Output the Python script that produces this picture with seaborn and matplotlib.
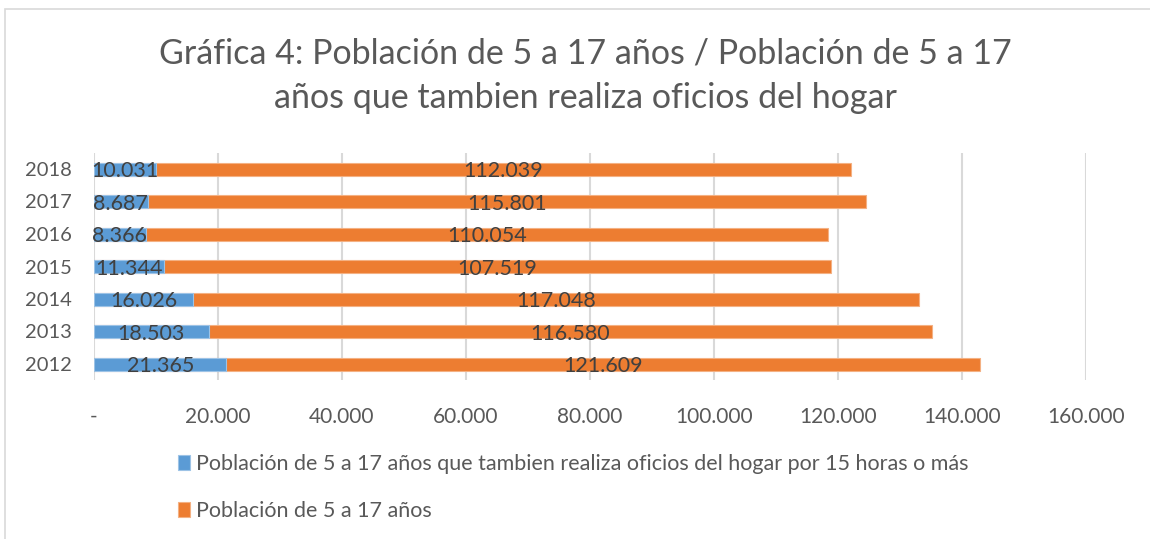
import matplotlib
matplotlib.use("Agg")
import matplotlib.pyplot as plt
import seaborn as sns
import pandas as pd
from matplotlib.patches import Rectangle
from matplotlib.ticker import FuncFormatter

years = ["2018", "2017", "2016", "2015", "2014", "2013", "2012"]
hogar = [10031, 8687, 8366, 11344, 16026, 18503, 21365]
poblacion = [112039, 115801, 110054, 107519, 117048, 116580, 121609]
xticks = [0, 20000, 40000, 60000, 80000, 100000, 120000, 140000, 160000]

label_hogar = "Población de 5 a 17 años que tambien realiza oficios del hogar por 15 horas o más"
label_pob = "Población de 5 a 17 años"
title = "Gráfica 4: Población de 5 a 17 años / Población de 5 a 17\naños que tambien realiza oficios del hogar"

BLUE = "#5B9BD5"
ORANGE = "#ED7D31"
GREY = "#595959"

sns.set_theme(style="white")
plt.rcParams["font.family"] = ["Lato", "DejaVu Sans"]

df = pd.DataFrame({"year": years, "hogar": hogar, "poblacion": poblacion})
df["total"] = df["hogar"] + df["poblacion"]

fig = plt.figure(figsize=(11.5, 5.39), dpi=100)
ax = fig.add_axes([94 / 1150, 1 - 380.25 / 539, (1086 - 94) / 1150, (380.25 - 152.75) / 539])

sns.barplot(data=df, x="total", y="year", order=years, orient="h", color=ORANGE,
            saturation=1, width=0.4, ax=ax, label=label_pob, zorder=3,
            edgecolor="#F4B183", linewidth=0.8)
sns.barplot(data=df, x="hogar", y="year", order=years, orient="h", color=BLUE,
            saturation=1, width=0.4, ax=ax, label=label_hogar, zorder=4,
            edgecolor="#9DC3E6", linewidth=0.8)

ax.set_xlim(0, 160000)
ax.set_xticks(xticks)
ax.xaxis.set_major_formatter(FuncFormatter(
    lambda v, p: "-" if v == 0 else f"{int(v):,}".replace(",", ".")))
ax.grid(axis="x", color="#D9D9D9", linewidth=1.5, zorder=0)
ax.grid(axis="y", visible=False)
for s in ax.spines.values():
    s.set_visible(False)
ax.set_xlabel("")
ax.set_ylabel("")
ax.tick_params(axis="y", labelsize=14.5, colors=GREY, pad=16, length=0)
ax.tick_params(axis="x", labelsize=15, colors=GREY, pad=19, length=0)

fmt = lambda v: f"{v:,}".replace(",", ".")
for i, (h, p) in enumerate(zip(hogar, poblacion)):
    ax.text(h / 2, i + 0.07, fmt(h), ha="center", va="center", fontsize=15.5,
            color="#404040", zorder=5)
    ax.text(h + p / 2, i + 0.07, fmt(p), ha="center", va="center", fontsize=15.5,
            color="#404040", zorder=5)

fig.text(585 / 1150, 1 - 76 / 539, title, ha="center", va="center", fontsize=24.5,
         color=GREY, linespacing=1.5)

handles, labels = ax.get_legend_handles_labels()
hmap = dict(zip(labels, handles))
leg = fig.legend([hmap[label_hogar], hmap[label_pob]], [label_hogar, label_pob],
                 loc="upper left", bbox_to_anchor=(178 / 1150, 1 - 454 / 539),
                 frameon=False, fontsize=15.5, handlelength=0.55, handleheight=0.75,
                 handletextpad=0.3, labelspacing=1.25, borderaxespad=0, borderpad=0)
for t in leg.get_texts():
    t.set_color(GREY)
if ax.get_legend() is not None:
    ax.get_legend().remove()

fig.patches.append(Rectangle((5 / 1150, -0.1), 1.2, 1 - 8.5 / 539 + 0.1,
                             transform=fig.transFigure, fill=False,
                             edgecolor="#D9D9D9", linewidth=1.2))

fig.savefig("out.png", dpi=100, facecolor="white")
